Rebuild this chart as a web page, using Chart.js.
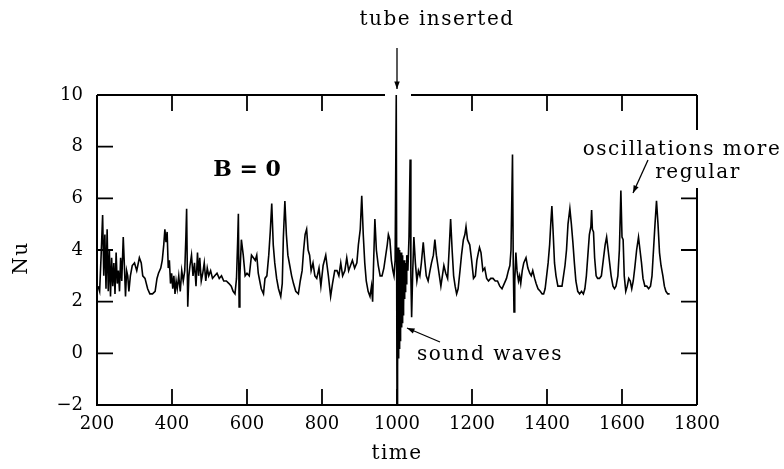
<!DOCTYPE html>
<html>
<head>
<meta charset="utf-8">
<script src="https://cdn.jsdelivr.net/npm/chart.js@4/dist/chart.umd.min.js"></script>
<style>
  body { margin: 0; background: #fff; }
  #wrap { width: 784px; height: 469px; }
</style>
</head>
<body>
<div id="wrap"><canvas id="nuChart" width="784" height="469"></canvas></div>
<script>
// time axis values and Nu readings
var time = [
  203,207,211,215,218,221,224,227,230,233,236,239,242,245,248,251,254,257,260,263,266,270,273,276,279,282,285,289,294,300,
  306,313,318,322,328,335,341,348,355,360,364,370,374,378,381,384,387,390,393,396,399,402,405,408,411,414,418,422,426,430,
  434,437,439,441,442,445,448,452,456,460,464,468,471,474,478,482,486,490,494,498,503,508,514,520,526,532,538,545,552,558,
  563,568,572,575,577,579,581,585,590,595,600,606,612,617,622,626,630,634,638,644,648,653,658,662,666,670,674,679,684,690,
  694,697,701,705,709,714,719,724,730,737,742,747,751,755,759,763,767,771,776,781,786,792,797,803,810,817,823,828,834,840,
  845,850,855,861,866,871,876,881,887,893,897,902,906,910,914,918,923,928,932,935,937,941,945,950,955,960,965,970,974,977,
  981,985,989,992,995,998,1000,1001,1002,1003,1004,1005,1006,1007,1008,1009,1010,1011,1012,1013,1014,1015,1016,1017,1018,1019,1020,1021,1022,1023,
  1024,1026,1029,1032,1035,1037,1039,1042,1045,1049,1053,1057,1061,1065,1070,1074,1078,1083,1088,1092,1097,1101,1105,1109,1113,1117,1121,1125,1130,1135,
  1139,1143,1147,1151,1155,1159,1163,1168,1172,1177,1181,1184,1188,1194,1199,1204,1209,1213,1217,1220,1224,1229,1234,1239,1244,1250,1256,1262,1268,1274,
  1280,1286,1292,1297,1301,1304,1308,1310,1312,1314,1317,1320,1324,1327,1330,1334,1338,1344,1349,1354,1358,1362,1367,1371,1376,1382,1387,1391,1395,1399,
  1403,1407,1410,1413,1416,1420,1424,1429,1434,1440,1444,1448,1452,1456,1461,1465,1469,1473,1477,1482,1487,1492,1497,1501,1505,1509,1513,1517,1519,1521,
  1524,1527,1531,1535,1540,1545,1550,1555,1559,1563,1567,1571,1576,1580,1584,1589,1593,1597,1600,1603,1606,1610,1614,1618,1622,1626,1630,1634,1639,1644,
  1648,1652,1656,1661,1666,1671,1676,1680,1684,1688,1692,1696,1700,1704,1709,1713,1717,1722,1727
];
var nu = [
  2.6,2.4,3.8,5.35,3.0,4.6,2.5,4.8,2.4,4.0,2.2,3.7,2.6,3.5,2.3,3.9,2.7,3.2,2.4,3.7,2.8,4.5,3.4,2.2,3.2,3.0,2.4,3.0,3.4,3.5,
  3.2,3.7,3.5,3.0,2.9,2.5,2.3,2.3,2.4,2.9,3.1,3.3,3.6,4.2,4.8,4.3,4.7,3.3,3.6,2.7,3.1,2.5,3.0,2.3,2.8,2.5,3.0,2.4,3.2,2.8,
  3.2,4.5,5.6,3.0,1.8,3.0,3.4,3.8,3.0,3.5,2.6,3.9,3.0,3.7,2.8,3.1,3.5,2.8,3.3,3.0,3.2,2.9,3.0,3.1,2.9,3.0,2.8,2.8,2.7,2.6,
  2.4,2.3,2.9,4.3,5.4,1.8,3.0,4.4,3.8,3.0,3.1,3.0,3.8,3.7,3.6,3.8,3.1,2.8,2.5,2.3,2.9,3.0,3.8,4.7,5.8,4.2,3.5,2.9,2.5,2.2,
  2.7,4.5,5.9,4.6,3.8,3.4,3.0,2.7,2.4,2.3,2.8,3.2,4.0,4.6,4.8,4.0,3.8,3.2,3.5,3.0,2.9,3.3,2.6,3.4,3.8,3.0,2.2,2.7,3.2,3.2,
  3.0,3.5,3.0,3.2,3.7,3.2,3.4,3.6,3.3,3.5,4.2,4.8,6.1,4.6,3.5,2.8,2.4,2.2,2.6,2.0,3.2,5.2,4.0,3.4,3.0,3.0,3.3,3.8,4.2,4.6,
  4.4,3.6,3.2,3.0,3.6,10.0,-2.0,3.9,-0.6,4.1,-0.2,3.8,0.2,4.0,0.5,3.7,0.8,3.9,1.0,3.6,1.2,3.8,1.5,3.5,1.8,3.6,2.1,3.4,2.4,3.5,
  2.7,3.8,3.2,4.5,7.5,3.0,1.4,3.2,4.5,3.5,2.8,3.2,3.0,3.5,4.3,3.6,3.0,2.8,3.2,3.5,3.8,4.4,3.8,3.4,3.0,2.6,3.0,3.4,3.1,2.9,
  4.0,5.2,4.0,3.0,2.6,2.3,2.5,3.2,3.8,4.4,4.6,4.9,4.4,4.2,3.6,2.9,3.0,3.6,3.9,4.1,3.9,3.2,3.3,2.9,2.8,2.9,2.9,2.8,2.8,2.6,
  2.5,2.7,2.9,3.2,3.4,4.0,7.7,3.5,1.6,2.8,3.9,3.2,2.8,3.0,2.7,3.2,3.5,3.7,3.3,3.1,3.0,3.2,2.9,2.7,2.5,2.4,2.3,2.3,2.5,3.0,
  3.5,4.2,5.0,5.7,4.8,3.5,3.0,2.6,2.6,2.6,3.0,3.4,4.0,5.0,5.6,5.0,4.3,3.5,2.8,2.4,2.3,2.4,2.3,2.5,3.0,3.8,4.6,4.9,5.55,4.8,
  4.7,3.7,3.0,2.9,2.9,3.0,3.6,4.2,4.5,4.0,3.5,3.0,2.6,2.5,2.6,3.0,4.0,6.3,4.5,4.4,3.0,2.4,2.6,2.9,2.8,2.5,2.8,3.3,4.0,4.5,
  4.0,3.5,2.9,2.6,2.6,2.5,2.6,3.0,4.0,5.0,5.9,5.0,3.9,3.4,3.0,2.6,2.4,2.3,2.3
];
var xTicks = [200, 400, 600, 800, 1000, 1200, 1400, 1600, 1800];
var yTicks = [-2, 0, 2, 4, 6, 8, 10];

var points = time.map(function (t, i) { return { x: t, y: nu[i] }; });

var serif = '"DejaVu Serif", "Liberation Serif", serif';

function arrow(ctx, x1, y1, x2, y2) {
  // line from (x1,y1) to tip (x2,y2)
  var a = Math.atan2(y2 - y1, x2 - x1);
  ctx.beginPath();
  ctx.moveTo(x1, y1);
  ctx.lineTo(x2, y2);
  ctx.stroke();
  ctx.beginPath();
  ctx.moveTo(x2, y2);
  ctx.lineTo(x2 - 8 * Math.cos(a - 0.35), y2 - 8 * Math.sin(a - 0.35));
  ctx.lineTo(x2 - 8 * Math.cos(a + 0.35), y2 - 8 * Math.sin(a + 0.35));
  ctx.closePath();
  ctx.fill();
}

// frame, inward ticks and notes
var frame = {
  id: 'frame',
  afterDraw: function (chart) {
    var ctx = chart.ctx;
    var a = chart.chartArea;
    var xs = chart.scales.x, ys = chart.scales.y;
    ctx.save();
    ctx.strokeStyle = '#000';
    ctx.fillStyle = '#000';
    ctx.lineWidth = 2;
    ctx.beginPath();
    // top border, gap where the spike goes through
    ctx.moveTo(a.left, a.top); ctx.lineTo(385, a.top);
    ctx.moveTo(411, a.top); ctx.lineTo(a.right, a.top);
    ctx.moveTo(a.left, a.top); ctx.lineTo(a.left, a.bottom);
    ctx.lineTo(a.right, a.bottom);
    ctx.moveTo(a.right, a.bottom); ctx.lineTo(a.right, 188);
    ctx.moveTo(a.right, a.top); ctx.lineTo(a.right, 130);
    ctx.stroke();

    ctx.lineWidth = 1.8;
    ctx.beginPath();
    xTicks.slice(1, -1).forEach(function (v) {
      var px = xs.getPixelForValue(v);
      ctx.moveTo(px, a.bottom); ctx.lineTo(px, a.bottom - 16);
      if (v !== 1000) { ctx.moveTo(px, a.top); ctx.lineTo(px, a.top + 16); }
    });
    yTicks.slice(1, -1).forEach(function (v) {
      var py = ys.getPixelForValue(v);
      ctx.moveTo(a.left, py); ctx.lineTo(a.left + 16, py);
      if (py > 190) { ctx.moveTo(a.right, py); ctx.lineTo(a.right - 16, py); }
    });
    ctx.stroke();

    ctx.textAlign = 'center';
    ctx.textBaseline = 'alphabetic';
    ctx.font = '20px ' + serif;
    ctx.letterSpacing = '1.5px';
    ctx.fillText('tube inserted', 437, 25);
    ctx.fillText('time', 397, 459);
    ctx.fillText('regular', 698, 178);
    ctx.fillText('oscillations more', 682, 155);
    ctx.fillText('sound waves', 490, 360);
    ctx.save();
    ctx.translate(27, 258);
    ctx.rotate(-Math.PI / 2);
    ctx.fillText('Nu', 0, 0);
    ctx.restore();
    ctx.letterSpacing = '0px';
    ctx.font = 'bold 22px ' + serif;
    ctx.fillText('B = 0', 247, 176);

    ctx.lineWidth = 1.3;
    arrow(ctx, 397, 48, 397, 89);
    arrow(ctx, 648, 160, 633, 193);
    arrow(ctx, 440, 342, 407, 328);
    ctx.restore();
  }
};

new Chart(document.getElementById('nuChart'), {
  type: 'scatter',
  data: {
    datasets: [{
      data: points,
      showLine: true,
      borderColor: '#000',
      borderWidth: 1.6,
      pointRadius: 0,
      tension: 0
    }]
  },
  options: {
    responsive: false,
    animation: false,
    devicePixelRatio: 1,
    layout: { padding: { top: 95, right: 87, left: 0, bottom: 0 } },
    plugins: { legend: { display: false }, tooltip: { enabled: false } },
    scales: {
      x: {
        type: 'linear', min: 200, max: 1800,
        afterFit: function (s) { s.height = 64; },
        grid: { display: false, drawTicks: false },
        border: { display: false },
        ticks: {
          stepSize: 200, padding: 9, color: '#000',
          font: { family: serif, size: 18 },
          maxRotation: 0,
          callback: function (v) { return String(v); }
        }
      },
      y: {
        min: -2, max: 10,
        afterFit: function (s) { s.width = 97; },
        grid: { display: false, drawTicks: false },
        border: { display: false },
        ticks: {
          stepSize: 2, padding: 14, color: '#000',
          font: { family: serif, size: 18 },
          callback: function (v) { return v < 0 ? '\u2212' + Math.abs(v) : String(v); }
        }
      }
    }
  },
  plugins: [frame]
});
</script>
</body>
</html>
